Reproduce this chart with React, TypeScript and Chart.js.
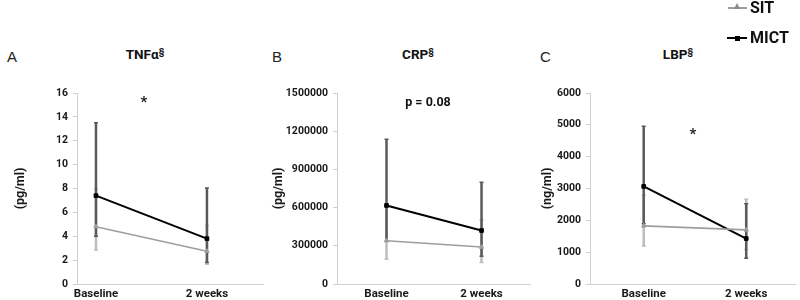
import React, { useEffect, useRef } from "react";
import { Chart, registerables } from "chart.js";
Chart.register(...registerables);

const categories = ["Baseline", "2 weeks"];
const seriesNames = ["SIT", "MICT"];

// Panel A: TNFα (pg/ml)
const tnfSIT = [4.8, 2.75];
const tnfSITLow = [2.85, 1.65];
const tnfSITHigh = [8.0, 4.9];
const tnfMICT = [7.4, 3.8];
const tnfMICTLow = [4.0, 1.8];
const tnfMICTHigh = [13.5, 8.05];

// Panel B: CRP (pg/ml)
const crpSIT = [340000, 290000];
const crpSITLow = [195000, 168000];
const crpSITHigh = [605000, 505000];
const crpMICT = [617000, 420000];
const crpMICTLow = [335000, 218000];
const crpMICTHigh = [1136000, 800000];

// Panel C: LBP (ng/ml)
const lbpSIT = [1826, 1700];
const lbpSITLow = [1196, 1085];
const lbpSITHigh = [2790, 2665];
const lbpMICT = [3064, 1427];
const lbpMICTLow = [1890, 810];
const lbpMICTHigh = [4953, 2518];

const tnfAxis = { max: 16, step: 2 };
const crpAxis = { max: 1500000, step: 300000 };
const lbpAxis = { max: 6000, step: 1000 };

const FONT = "Roboto, 'Liberation Sans', sans-serif";
const SIT_LINE = "#9e9e9e";
const SIT_ERR = "#bdbdbd";
const MICT_LINE = "#000000";
const MICT_ERR = "#5a5a5a";

const errorBarPlugin = {
  id: "errorBars",
  beforeDatasetsDraw(chart: any) {
    const ctx = chart.ctx;
    const xs = chart.scales.x;
    const ys = chart.scales.y;
    chart.data.datasets.forEach((ds: any) => {
      ctx.save();
      ctx.strokeStyle = ds.errColor;
      ds.data.forEach((p: any, i: number) => {
        const x = xs.getPixelForValue(p.x);
        const y1 = ys.getPixelForValue(ds.errLow[i]);
        const y2 = ys.getPixelForValue(ds.errHigh[i]);
        ctx.lineWidth = 2.5;
        ctx.beginPath();
        ctx.moveTo(x, y1);
        ctx.lineTo(x, y2);
        ctx.stroke();
        ctx.lineWidth = 1.5;
        ctx.beginPath();
        ctx.moveTo(x - 2, y1);
        ctx.lineTo(x + 2, y1);
        ctx.moveTo(x - 2, y2);
        ctx.lineTo(x + 2, y2);
        ctx.stroke();
      });
      ctx.restore();
    });
  },
};

type PanelProps = {
  left: number;
  width: number;
  yWidth: number;
  padRight: number;
  xMin: number;
  xMax: number;
  yTitle: string;
  yTitlePad: number;
  axis: { max: number; step: number };
  sit: number[];
  sitLow: number[];
  sitHigh: number[];
  mict: number[];
  mictLow: number[];
  mictHigh: number[];
};

function Panel(props: PanelProps) {
  const ref = useRef<HTMLCanvasElement>(null);
  useEffect(() => {
    if (!ref.current) return;
    const toPts = (arr: number[]) => categories.map((_, i) => ({ x: i, y: arr[i] }));
    const chart = new Chart(ref.current, {
      type: "line",
      data: {
        datasets: [
          {
            label: seriesNames[0],
            data: toPts(props.sit),
            borderColor: SIT_LINE,
            backgroundColor: SIT_LINE,
            borderWidth: 1.6,
            pointStyle: "triangle",
            pointRadius: 2.5,
            pointBorderWidth: 1,
            errLow: props.sitLow,
            errHigh: props.sitHigh,
            errColor: SIT_ERR,
          } as any,
          {
            label: seriesNames[1],
            data: toPts(props.mict),
            borderColor: MICT_LINE,
            backgroundColor: MICT_LINE,
            borderWidth: 2,
            pointStyle: "rect",
            pointRadius: 2.6,
            pointBorderWidth: 1,
            errLow: props.mictLow,
            errHigh: props.mictHigh,
            errColor: MICT_ERR,
          } as any,
        ],
      },
      options: {
        animation: false,
        responsive: false,
        maintainAspectRatio: false,
        layout: { padding: { top: 13, right: props.padRight, bottom: 0, left: 0 } },
        plugins: { legend: { display: false }, tooltip: { enabled: false } },
        scales: {
          x: {
            type: "linear",
            min: props.xMin,
            max: props.xMax,
            afterBuildTicks: (s: any) => {
              s.ticks = categories.map((_, i) => ({ value: i }));
            },
            afterFit: (s: any) => {
              s.height = 16;
            },
            ticks: {
              autoSkip: false,
              maxRotation: 0,
              padding: 3,
              color: "#1a1a1a",
              font: { family: FONT, size: 11.5, weight: "bold" },
              callback: (v: any) => categories[v] ?? "",
            },
            grid: { drawOnChartArea: false, drawTicks: false, color: "#d0d0d0" },
            border: { color: "#cfcfcf", width: 1 },
          },
          y: {
            type: "linear",
            min: 0,
            max: props.axis.max,
            afterFit: (s: any) => {
              s.width = props.yWidth;
            },
            ticks: {
              stepSize: props.axis.step,
              padding: 5,
              color: "#1a1a1a",
              font: { family: FONT, size: 10.5, weight: "bold" },
              callback: (v: any) => String(v),
            },
            title: {
              display: true,
              text: props.yTitle,
              color: "#1a1a1a",
              font: { family: FONT, size: 12.5, weight: "bold" },
              padding: { top: props.yTitlePad, bottom: 0 },
            },
            grid: { drawOnChartArea: false, drawTicks: true, tickLength: 4, color: "#cfcfcf" },
            border: { color: "#cfcfcf", width: 1 },
          },
        },
      } as any,
      plugins: [errorBarPlugin],
    });
    return () => chart.destroy();
  }, []);
  return (
    <canvas
      ref={ref}
      width={props.width}
      height={220}
      style={{ position: "absolute", left: props.left, top: 80, width: props.width, height: 220 }}
    />
  );
}

const abs = (x: number, y: number, extra: any = {}) => ({
  position: "absolute" as const,
  left: x,
  top: y,
  whiteSpace: "nowrap" as const,
  ...extra,
});

export default function App() {
  const titleStyle = { fontFamily: FONT, fontWeight: 700, fontSize: 13.5, color: "#111", transform: "translateX(-50%)", lineHeight: "16px" };
  const letterStyle = { fontFamily: "'Liberation Sans', Arial, sans-serif", fontSize: 15, color: "#222", lineHeight: "17px" };
  const sup = { fontSize: 9, verticalAlign: "top", position: "relative" as const, top: -2 };
  const legendText = { fontFamily: FONT, fontWeight: 700, fontSize: 16, color: "#111", lineHeight: "18px" };
  return (
    <div style={{ position: "fixed", left: 0, top: 0, width: 800, height: 300, background: "#fff", overflow: "hidden" }}>
      <Panel left={0} width={270} yWidth={77} padRight={7} xMin={-0.171} xMax={1.505} yTitle="(pg/ml)" yTitlePad={13}
        axis={tnfAxis} sit={tnfSIT} sitLow={tnfSITLow} sitHigh={tnfSITHigh} mict={tnfMICT} mictLow={tnfMICTLow} mictHigh={tnfMICTHigh} />
      <Panel left={270} width={265} yWidth={67} padRight={3} xMin={-0.521} xMax={1.51} yTitle="(pg/ml)" yTitlePad={1}
        axis={crpAxis} sit={crpSIT} sitLow={crpSITLow} sitHigh={crpSITHigh} mict={crpMICT} mictLow={crpMICTLow} mictHigh={crpMICTHigh} />
      <Panel left={535} width={265} yWidth={55} padRight={4} xMin={-0.524} xMax={1.476} yTitle="(ng/ml)" yTitlePad={5}
        axis={lbpAxis} sit={lbpSIT} sitLow={lbpSITLow} sitHigh={lbpSITHigh} mict={lbpMICT} mictLow={lbpMICTLow} mictHigh={lbpMICTHigh} />

      <div style={abs(7, 48, letterStyle)}>A</div>
      <div style={abs(272, 48, letterStyle)}>B</div>
      <div style={abs(540, 48, letterStyle)}>C</div>

      <div style={abs(145, 46, titleStyle)}>TNFα<span style={sup}>§</span></div>
      <div style={abs(418, 46, titleStyle)}>CRP<span style={sup}>§</span></div>
      <div style={abs(678, 46, titleStyle)}>LBP<span style={sup}>§</span></div>

      <div style={abs(144, 93, { fontFamily: FONT, fontWeight: 700, fontSize: 15, transform: "translateX(-50%)", color: "#222" })}>*</div>
      <div style={abs(428, 94, { fontFamily: FONT, fontWeight: 700, fontSize: 12.5, transform: "translateX(-50%)", color: "#111" })}>p = 0.08</div>
      <div style={abs(693, 125, { fontFamily: FONT, fontWeight: 700, fontSize: 15, transform: "translateX(-50%)", color: "#222" })}>*</div>

      {/* legend */}
      <div style={abs(728, 0, { width: 20, height: 16 })}>
        <div style={{ position: "absolute", left: 0, top: 7, width: 19, height: 1.5, background: SIT_LINE }} />
        <div style={{ position: "absolute", left: 6, top: 3, width: 0, height: 0, borderLeft: "3.5px solid transparent", borderRight: "3.5px solid transparent", borderBottom: "6px solid #8a8a8a" }} />
      </div>
      <div style={abs(750, -1, legendText)}>{seriesNames[0]}</div>
      <div style={abs(727, 29, { width: 21, height: 16 })}>
        <div style={{ position: "absolute", left: 0, top: 8, width: 20, height: 2, background: MICT_LINE }} />
        <div style={{ position: "absolute", left: 8, top: 6.5, width: 5, height: 5, background: MICT_LINE }} />
      </div>
      <div style={abs(750, 29, legendText)}>{seriesNames[1]}</div>
    </div>
  );
}
